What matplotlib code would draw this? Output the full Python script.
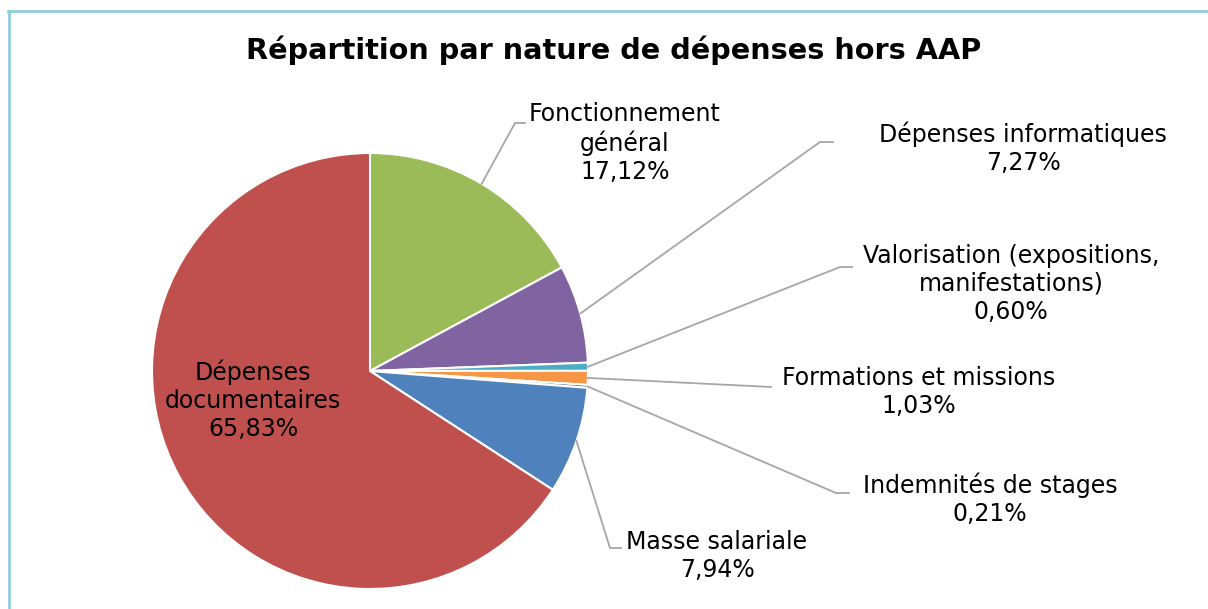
import matplotlib
matplotlib.use("Agg")
import matplotlib.pyplot as plt
from matplotlib.lines import Line2D
import numpy as np

categories = ["Fonctionnement\ngénéral", "Dépenses informatiques",
              "Valorisation (expositions,\nmanifestations)", "Formations et missions",
              "Indemnités de stages", "Masse salariale", "Dépenses\ndocumentaires"]
values = [17.12, 7.27, 0.60, 1.03, 0.21, 7.94, 65.83]
colors = ["#9BBB59", "#8064A2", "#4BACC6", "#F79646", "#1F497D", "#4F81BD", "#C0504D"]

W, H = 1208, 609
fig = plt.figure(figsize=(W / 100, H / 100), dpi=100)
fig.patch.set_facecolor("white")

cx, cy, R = 370, 371, 218
ax = fig.add_axes([(cx - R) / W, (H - cy - R) / H, 2 * R / W, 2 * R / H])

wedges, _ = ax.pie(values, colors=colors, startangle=90, counterclock=False,
                   radius=1.0, wedgeprops=dict(edgecolor="white", linewidth=1.5))
ax.set_xlim(-1, 1)
ax.set_ylim(-1, 1)
ax.set_aspect("equal")
ax.axis("off")

def px(x, y):
    return ((x - cx) / R, (cy - y) / R)

fs = 17
gray = "#A6A6A6"
layout = {
    0: ((515, 123), (525, 123), (625, 143)),
    1: ((820, 142), (833, 142), (1023, 148)),
    2: ((840, 267), (852, 267), (1011, 284)),
    3: ((771, 387), (771, 387), (919, 392)),
    4: ((836, 493), (849, 493), (990, 499)),
    5: ((610, 548), (621, 548), (717, 556)),
}
for i, w in enumerate(wedges):
    lab = f"{categories[i]}\n{values[i]:.2f}%".replace(".", ",")
    ang = np.deg2rad((w.theta1 + w.theta2) / 2)
    sx, sy = np.cos(ang), np.sin(ang)
    if i in layout:
        (ex, ey), (fx, fy), (tx, ty) = layout[i]
        p1 = px(ex, ey)
        p2 = px(fx, fy)
        ax.add_line(Line2D([sx, p1[0], p2[0]], [sy, p1[1], p2[1]], color=gray,
                           linewidth=1.3, clip_on=False))
        t = px(tx, ty)
    else:
        t = px(253, 400)
    ax.text(t[0], t[1], lab, ha="center", va="center", fontsize=fs,
            color="black", linespacing=1.22, clip_on=False)

fig.text(614 / W, 1 - 50 / H, "Répartition par nature de dépenses hors AAP",
         ha="center", va="center", fontsize=20.7, fontweight="bold")

bc = "#92CDDC"
fig.add_artist(Line2D([9 / W, 9 / W], [0, 1 - 10.5 / H], color=bc, linewidth=2,
                      transform=fig.transFigure))
fig.add_artist(Line2D([8 / W, 1], [1 - 10.5 / H, 1 - 10.5 / H], color=bc, linewidth=2,
                      transform=fig.transFigure))

fig.savefig("out.png", dpi=100)
